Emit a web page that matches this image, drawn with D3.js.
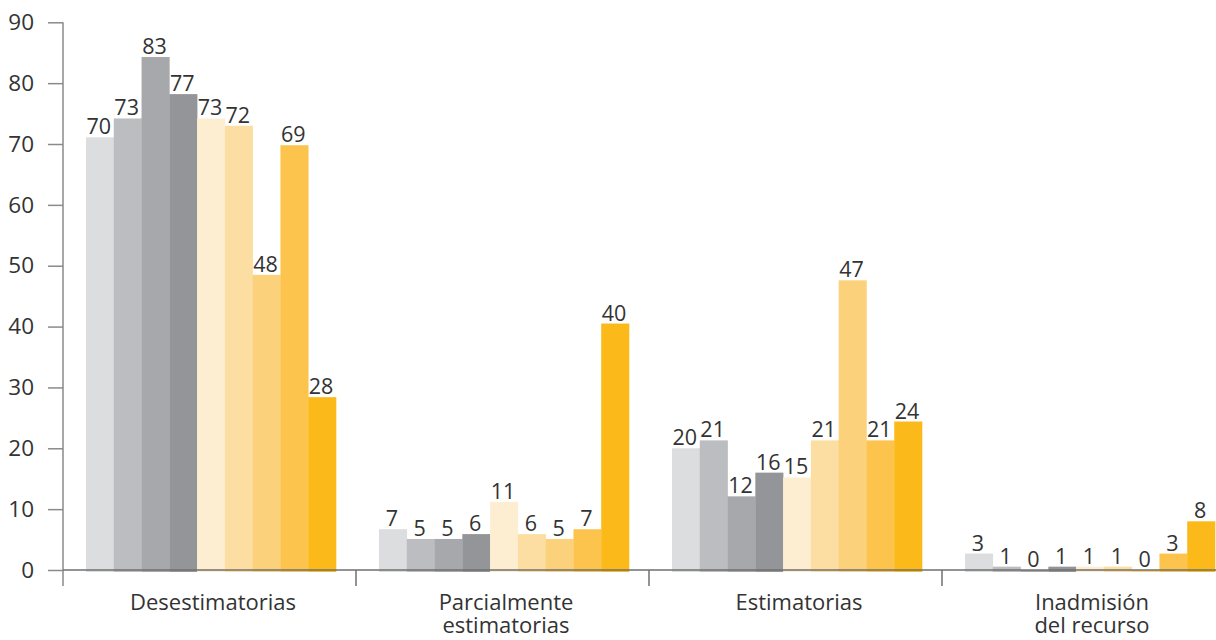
<!DOCTYPE html>
<html>
<head>
<meta charset="utf-8">
<script src="https://cdn.jsdelivr.net/npm/d3@7"></script>
<style>
  html, body { margin: 0; padding: 0; background: #ffffff; }
  svg { display: block; }
  text { font-family: "Open Sans", "Noto Sans", sans-serif; fill: #333333; }
</style>
</head>
<body>
<svg id="chart" width="1216" height="640"></svg>
<script>
// ---- Data ----
const categories = ["Desestimatorias", "Parcialmente\nestimatorias", "Estimatorias", "Inadmisión\ndel recurso"];
const seriesNames = ["s1", "s2", "s3", "s4", "s5", "s6", "s7", "s8", "s9"];
// bar heights, per category (one value per series)
const desestimatorias = [71.1, 74.2, 84.3, 78.2, 74.2, 73.0, 48.5, 69.8, 28.4];
const parcialmente   = [6.7, 5.1, 5.1, 5.9, 11.2, 5.9, 5.1, 6.7, 40.5];
const estimatorias   = [20.0, 21.3, 12.1, 16.0, 15.2, 21.3, 47.6, 21.3, 24.4];
const inadmision     = [2.7, 0.55, 0, 0.55, 0.55, 0.55, 0, 2.7, 8.0];
// value labels as printed on the chart
const labelsDesestimatorias = ["70", "73", "83", "77", "73", "72", "48", "69", "28"];
const labelsParcialmente   = ["7", "5", "5", "6", "11", "6", "5", "7", "40"];
const labelsEstimatorias   = ["20", "21", "12", "16", "15", "21", "47", "21", "24"];
const labelsInadmision     = ["3", "1", "0", "1", "1", "1", "0", "3", "8"];
const yTicks = [0, 10, 20, 30, 40, 50, 60, 70, 80, 90];
const colors = ["#dcdddf", "#bcbdc0", "#a7a8ab", "#939598", "#feeed1", "#fddea2", "#fcd17c", "#fcc44c", "#fbb91a"];

const valuesByCat = [desestimatorias, parcialmente, estimatorias, inadmision];
const labelsByCat = [labelsDesestimatorias, labelsParcialmente, labelsEstimatorias, labelsInadmision];

// ---- Layout ----
const svg = d3.select("#chart");
const axisX = 63;
const y = d3.scaleLinear().domain([0, 90]).range([570, 22.3]);
const x0 = d3.scaleBand().domain(categories).range([axisX, axisX + 4 * 293]).paddingInner(0).paddingOuter(0);
const groupOffset = 23, groupWidth = 250;
const x1 = d3.scaleBand().domain(seriesNames).range([0, groupWidth]).padding(0);
const color = d3.scaleOrdinal().domain(seriesNames).range(colors);

// ---- Bars ----
const groups = svg.append("g").selectAll("g")
  .data(categories)
  .join("g")
  .attr("transform", d => `translate(${x0(d) + groupOffset},0)`);

groups.each(function(cat, ci) {
  const g = d3.select(this);
  const rows = seriesNames.map((s, i) => ({ s, v: valuesByCat[ci][i], label: labelsByCat[ci][i] }));
  g.selectAll("rect")
    .data(rows)
    .join("rect")
    .attr("x", d => x1(d.s))
    .attr("width", x1.bandwidth() + 0.3)
    .attr("y", d => y(d.v))
    .attr("height", d => y(0) - y(d.v) + 2)
    .attr("fill", d => color(d.s));
  g.selectAll("text.val")
    .data(rows)
    .join("text")
    .attr("class", "val")
    .attr("x", d => x1(d.s) + x1.bandwidth() / 2 - 1)
    .attr("y", d => y(d.v) - 3)
    .attr("text-anchor", "middle")
    .attr("font-size", 21.5)
    .text(d => d.label);
});

// ---- Y axis ----
const yAxis = d3.axisLeft(y).tickValues(yTicks).tickSize(15).tickPadding(14).tickFormat(d3.format("d"));
const yg = svg.append("g").attr("transform", `translate(${axisX},0)`).call(yAxis);
yg.select(".domain").remove();
yg.selectAll(".tick line").attr("stroke", "#8a8a8a").attr("stroke-width", 1.5);
yg.selectAll(".tick text").attr("font-size", 22.5).attr("fill", "#333333")
  .style("font-family", '"Open Sans", "Noto Sans", sans-serif');
svg.append("line")
  .attr("x1", axisX).attr("x2", axisX)
  .attr("y1", y(90)).attr("y2", 586)
  .attr("stroke", "#8a8a8a").attr("stroke-width", 1.5);

// ---- X axis ----
svg.append("line")
  .attr("x1", axisX).attr("x2", 1216)
  .attr("y1", y(0)).attr("y2", y(0))
  .attr("stroke", "#6f6f6f").attr("stroke-width", 1.5);
svg.append("g").selectAll("line")
  .data(categories.slice(1))
  .join("line")
  .attr("x1", d => x0(d)).attr("x2", d => x0(d))
  .attr("y1", y(0)).attr("y2", 586)
  .attr("stroke", "#6f6f6f").attr("stroke-width", 1.5);

// category labels, one text element per line
const catLines = [];
categories.forEach(c => c.split("\n").forEach((line, i) => catLines.push({ c, line, i })));
svg.append("g").selectAll("text")
  .data(catLines)
  .join("text")
  .attr("x", d => x0(d.c) + groupOffset + groupWidth / 2 + 2)
  .attr("y", d => 610 + d.i * 23)
  .attr("text-anchor", "middle")
  .attr("font-size", 22)
  .text(d => d.line);
</script>
</body>
</html>
